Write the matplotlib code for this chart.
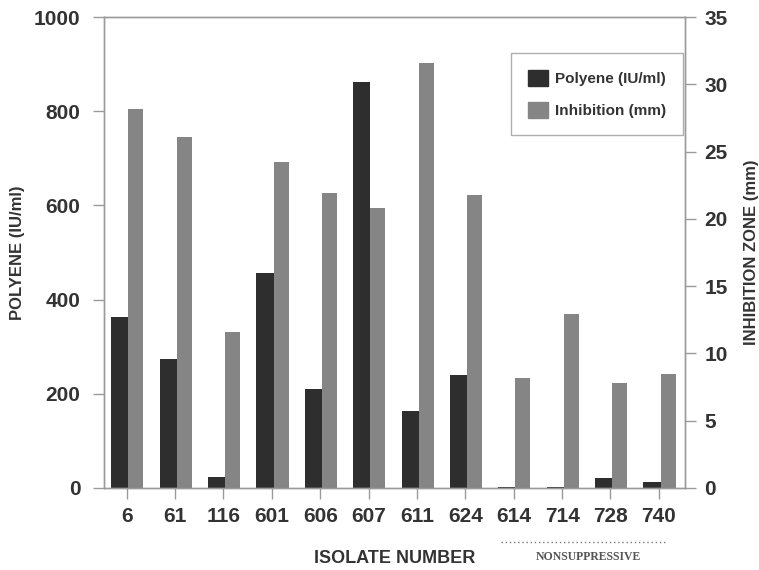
import numpy as np
import matplotlib
matplotlib.use('Agg')
import matplotlib.pyplot as plt
from matplotlib.patches import Patch

# isolates and measured values
isolates = ['6', '61', '116', '601', '606', '607', '611', '624', '614', '714', '728', '740']
polyene = [362, 273, 23, 456, 210, 863, 163, 239, 2, 1, 22, 13]            # IU/ml
inhibition = [28.2, 26.1, 11.6, 24.2, 21.9, 20.8, 31.6, 21.8, 8.2, 12.9, 7.8, 8.5]  # mm

dark = '#2e2e2e'
grey = '#858585'
spine = '#9a9a9a'

plt.rcParams['font.family'] = ['Liberation Sans', 'DejaVu Sans']
plt.rcParams['font.weight'] = 'bold'

fig = plt.figure(figsize=(7.59, 5.70), dpi=100)
ax = fig.add_axes([0.137, 0.144, 0.7655, 0.826])
ax2 = ax.twinx()

x = np.arange(len(isolates))
ax.bar(x - 0.32, polyene, width=0.355, align='edge', color=dark, zorder=2)
ax2.bar(x + 0.035, inhibition, width=0.31, align='edge', color=grey, zorder=2)

ax.set_xlim(-0.47, 11.54)
ax.set_ylim(0, 1000)
ax2.set_ylim(0, 35)
ax.set_yticks([0, 200, 400, 600, 800, 1000])
ax2.set_yticks([0, 5, 10, 15, 20, 25, 30, 35])
ax.set_xticks(x)
ax.set_xticklabels(isolates)

for a in (ax, ax2):
    for s in a.spines.values():
        s.set_color(spine)
        s.set_linewidth(1.0)
    a.tick_params(colors=spine, labelcolor='#333333', length=8, width=1.0,
                  labelsize=15)
ax.tick_params(axis='y', pad=9)
ax.tick_params(axis='x', pad=6)
ax2.tick_params(axis='y', pad=6)

for lab in ax.get_xticklabels() + ax.get_yticklabels() + ax2.get_yticklabels():
    lab.set_fontweight('bold')

ax.set_ylabel('POLYENE (IU/ml)', fontsize=12, fontweight='bold', color='#333333', labelpad=6)
ax2.set_ylabel('INHIBITION ZONE (mm)', fontsize=12, fontweight='bold', color='#333333', labelpad=12)
ax.set_xlabel('ISOLATE NUMBER', fontsize=13, fontweight='bold', color='#333333', labelpad=17)

# nonsuppressive group marker under the last four isolates
tr = ax.get_xaxis_transform()
ax.plot([7.74, 11.17], [-0.114, -0.114], transform=tr, color='#777777',
        linestyle=(0, (1, 2)), linewidth=1.0, clip_on=False)
ax.text(9.55, -0.146, 'NONSUPPRESSIVE', transform=tr, ha='center', va='center',
        fontsize=8.5, family='Liberation Serif', fontweight='bold', color='#555555')

handles = [Patch(facecolor=dark, edgecolor=dark, label='Polyene (IU/ml)'),
           Patch(facecolor=grey, edgecolor=grey, label='Inhibition (mm)')]
leg = ax2.legend(handles=handles, loc='upper right', bbox_to_anchor=(0.997, 0.924),
                 fontsize=11, frameon=True, fancybox=False, edgecolor=spine,
                 handlelength=1.3, handleheight=1.3, labelspacing=1.0,
                 borderpad=1.1, handletextpad=0.5, borderaxespad=0)
leg.get_frame().set_linewidth(1.0)
for t in leg.get_texts():
    t.set_fontweight('bold')
    t.set_color('#333333')

fig.savefig('out.png', dpi=100)
